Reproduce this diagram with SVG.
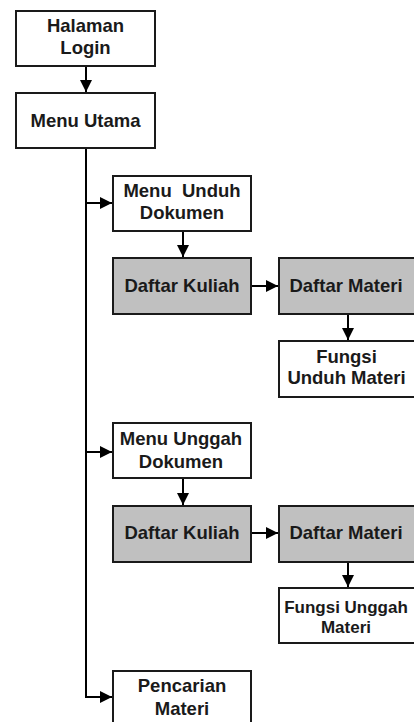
<svg xmlns="http://www.w3.org/2000/svg" width="414" height="722" viewBox="0 0 414 722">
<defs>
<style>
.box{fill:#fff;stroke:#1a1a1a;stroke-width:2}
.gray{fill:#c0c0c0}
.t{font-family:"Liberation Sans",Arial,sans-serif;font-weight:bold;font-size:18.5px;fill:#1a1a1a;text-anchor:middle;white-space:pre}
.s{font-size:17px}
.ln{fill:none;stroke:#000;stroke-width:2}
</style>
<marker id="ah" viewBox="0 0 10 10" refX="10" refY="5" markerWidth="6.5" markerHeight="6" markerUnits="strokeWidth" orient="auto">
<path d="M0,0 L10,5 L0,10 z" fill="#000"/>
</marker>
</defs>
<rect width="414" height="722" fill="#fff"/>
<g id="connectors">
<path class="ln" d="M86,66 V92" marker-end="url(#ah)"/>
<path class="ln" d="M86,148 V697"/>
<path class="ln" d="M85,203 H112" marker-end="url(#ah)"/>
<path class="ln" d="M85,452 H112" marker-end="url(#ah)"/>
<path class="ln" d="M85,697 H112" marker-end="url(#ah)"/>
<path class="ln" d="M183,231 V257" marker-end="url(#ah)"/>
<path class="ln" d="M251,286 H278" marker-end="url(#ah)"/>
<path class="ln" d="M348,314 V340" marker-end="url(#ah)"/>
<path class="ln" d="M183,478 V505" marker-end="url(#ah)"/>
<path class="ln" d="M251,533 H278" marker-end="url(#ah)"/>
<path class="ln" d="M348,562 V587" marker-end="url(#ah)"/>
</g>
<g id="halaman-login">
<rect class="box" x="16" y="11" width="139" height="55"/>
<text class="t" x="85.5" y="32">Halaman</text>
<text class="t" x="85.5" y="54">Login</text>
</g>
<g id="menu-utama">
<rect class="box" x="16" y="93" width="139" height="55"/>
<text class="t" x="85.5" y="127">Menu Utama</text>
</g>
<g id="menu-unduh">
<rect class="box" x="113" y="176" width="138" height="55"/>
<text class="t" x="182" y="197">Menu  Unduh</text>
<text class="t" x="182" y="219">Dokumen</text>
</g>
<g id="daftar-kuliah-1">
<rect class="box gray" x="113" y="258" width="138" height="56"/>
<text class="t" x="182" y="292">Daftar Kuliah</text>
</g>
<g id="daftar-materi-1">
<rect class="box gray" x="279" y="258" width="138" height="56"/>
<text class="t" x="346" y="292">Daftar Materi</text>
</g>
<g id="fungsi-unduh">
<rect class="box" x="279" y="341" width="138" height="56"/>
<text class="t" x="346.5" y="363">Fungsi</text>
<text class="t" x="346.5" y="384">Unduh Materi</text>
</g>
<g id="menu-unggah">
<rect class="box" x="113" y="423" width="138" height="55"/>
<text class="t" x="181" y="445">Menu Unggah</text>
<text class="t" x="181" y="468">Dokumen</text>
</g>
<g id="daftar-kuliah-2">
<rect class="box gray" x="113" y="506" width="138" height="56"/>
<text class="t" x="182" y="539">Daftar Kuliah</text>
</g>
<g id="daftar-materi-2">
<rect class="box gray" x="279" y="506" width="138" height="56"/>
<text class="t" x="346" y="539">Daftar Materi</text>
</g>
<g id="fungsi-unggah">
<rect class="box" x="279" y="588" width="138" height="55"/>
<text class="t s" x="346" y="613">Fungsi Unggah</text>
<text class="t s" x="346" y="633">Materi</text>
</g>
<g id="pencarian">
<rect class="box" x="113" y="671" width="138" height="56"/>
<text class="t" x="182" y="692">Pencarian</text>
<text class="t" x="182" y="715">Materi</text>
</g>
</svg>
